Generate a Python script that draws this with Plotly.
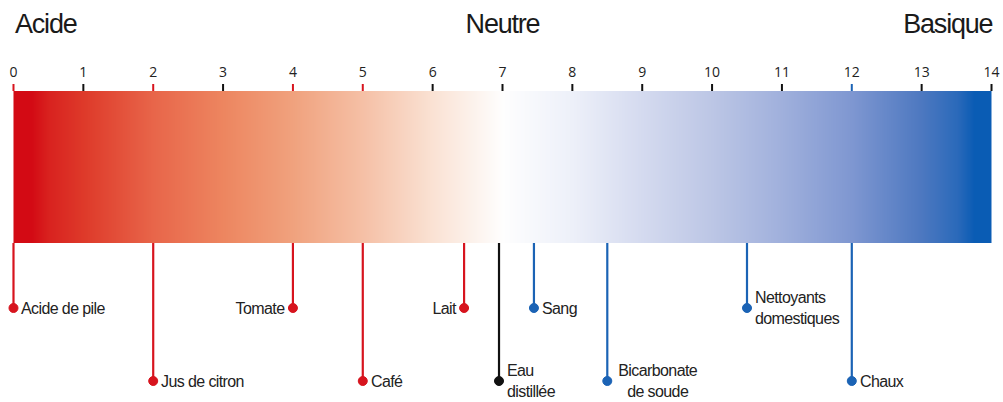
import plotly.graph_objects as go

# ---- data ----
ph_ticks = list(range(15))
substances = ["Acide de pile", "Jus de citron", "Tomate", "Café", "Lait",
              "Eau<br>distillée", "Sang", "Bicarbonate<br>de soude",
              "Nettoyants<br>domestiques", "Chaux"]
substance_ph = [0, 2, 4, 5, 6.45, 6.95, 7.45, 8.5, 10.5, 12]
substance_kind = ["acide", "acide", "acide", "acide", "acide",
                  "neutre", "base", "base", "base", "base"]
label_row = [1, 2, 1, 2, 1, 2, 1, 2, 1, 2]
label_side = ["right", "right", "left", "right", "left",
              "right", "right", "center", "right", "right"]
zone_titles = ["Acide", "Neutre", "Basique"]
zone_ph = [0, 7, 14]

# ---- style ----
kind_color = {"acide": "#d7141e", "neutre": "#111111", "base": "#1b63b5"}
gradient = ["#d30a14", "#de3a2a", "#e8664a", "#ed8660", "#f0a27e", "#f5c0a6",
            "#fae2d4", "#fefefe", "#edf0f9", "#d4daef", "#bcc6e5", "#a0b0dc",
            "#7f97d1", "#4d78c0", "#0a5cb4"]
FONT = "Liberation Sans, Arial, sans-serif"
BAR_TOP, BAR_BOTTOM = 91, 243
TICK_TOP = 84
TICKLABEL_Y = 73
ROW_Y = {1: 308, 2: 381}
TITLE_Y = 24
PAD = 0.05  # axis padding (pH units) so edge marks are not clipped

fig = go.Figure()

# gradient bar: cell edges stop exactly at the ends of the scale
lo, hi = ph_ticks[0], ph_ticks[-1]
edges = [lo] + [t + 0.5 for t in ph_ticks[:-1]] + [hi]
cs = [[(p - lo) / (hi - lo), c] for p, c in zip(ph_ticks, gradient)]
fig.add_trace(go.Heatmap(
    x=edges, y=[BAR_TOP, (BAR_TOP + BAR_BOTTOM) / 2, BAR_BOTTOM],
    z=[ph_ticks, ph_ticks], zmin=lo, zmax=hi, colorscale=cs,
    zsmooth="best", showscale=False, hoverinfo="skip"))

# ticks (coloured by substances sitting on them)
for t in ph_ticks:
    col = "#111111"
    for p, k in zip(substance_ph, substance_kind):
        if p == t and k != "neutre":
            col = kind_color[k]
    fig.add_trace(go.Scatter(x=[t, t], y=[TICK_TOP, BAR_TOP], mode="lines",
                             line=dict(color=col, width=2), cliponaxis=False,
                             hoverinfo="skip", showlegend=False))

# tick labels
fig.add_trace(go.Scatter(
    x=ph_ticks, y=[TICKLABEL_Y] * len(ph_ticks), mode="text",
    text=[str(t) for t in ph_ticks], textposition="middle center",
    textfont=dict(family="Open Sans, sans-serif", size=14, color="#222222"),
    cliponaxis=False, hoverinfo="skip", showlegend=False))

# substances: leader lines + dots + labels
for name, p, k, r, side in zip(substances, substance_ph, substance_kind,
                               label_row, label_side):
    col = kind_color[k]
    fig.add_trace(go.Scatter(
        x=[p, p], y=[BAR_BOTTOM, ROW_Y[r]], mode="lines+markers",
        line=dict(color=col, width=2.2),
        marker=dict(size=[0, 9], color=col, opacity=1,
                    line=dict(color=col, width=1)),
        cliponaxis=False, hoverinfo="skip", showlegend=False))
    if side == "left":
        xanchor, xshift, align = "right", -6, "right"
    elif side == "center":
        xanchor, xshift, align = "left", 6, "center"
    else:
        xanchor, xshift, align = "left", 6, "left"
    fig.add_annotation(x=p, y=ROW_Y[r], text=name, showarrow=False,
                       xanchor=xanchor, yanchor="middle", xshift=xshift,
                       align=align,
                       font=dict(family=FONT, size=16, color="#222222"))

# zone titles
for title, p, anchor, shift in zip(zone_titles, zone_ph,
                                   ["left", "center", "right"], [-3, 0, 7]):
    fig.add_annotation(x=p, y=TITLE_Y, text=title, showarrow=False,
                       xanchor=anchor, yanchor="middle", xshift=shift,
                       font=dict(family=FONT, size=27, color="#1a1a1a"))

fig.update_layout(
    width=1003, height=402,
    margin=dict(l=9.5, r=7.5, t=0, b=0, pad=0),
    paper_bgcolor="white", plot_bgcolor="white",
    xaxis=dict(range=[lo - PAD, hi + PAD], visible=False, fixedrange=True),
    yaxis=dict(range=[402, 0], visible=False, fixedrange=True),
    showlegend=False,
)

post = """
document.body.style.margin = '0';
document.querySelectorAll('.annotation-text').forEach(function (t) {
    var fs = parseFloat(t.style.fontSize);
    t.style.letterSpacing = fs > 20 ? '-1.2px' : '-0.6px';
});
"""
fig.write_html("out.html", post_script=post,
               config={"displayModeBar": False, "staticPlot": True})
